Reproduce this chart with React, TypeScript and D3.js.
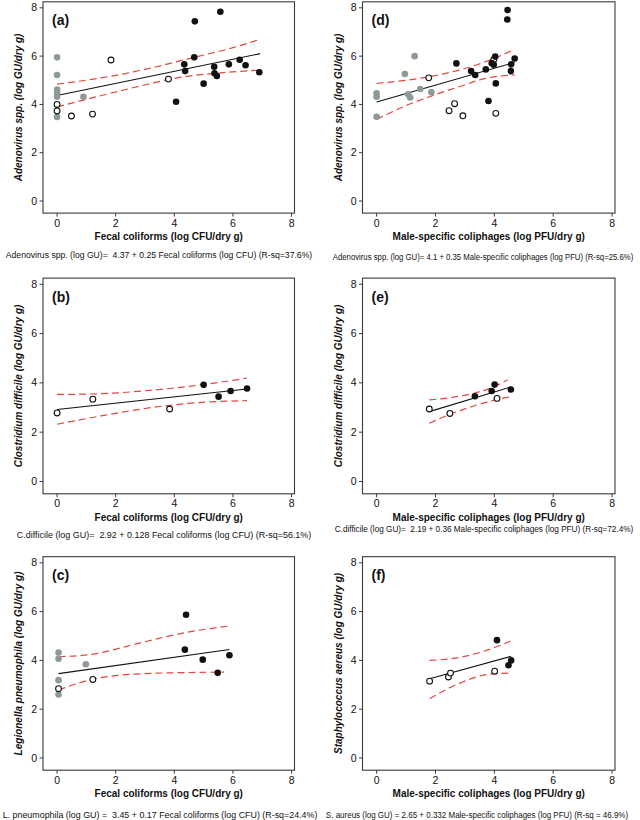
import React, { useLayoutEffect, useRef, useState } from "react";
import * as d3 from "d3";

type P = [number, number];

// ---------- data ----------
const aGray: P[] = [[0, 5.95], [0, 5.22], [0, 4.62], [0, 4.47], [0, 4.32], [0, 3.48], [0.9, 4.32]];
const aOpen: P[] = [[0, 4.0], [0, 3.73], [0.49, 3.52], [1.21, 3.6], [1.84, 5.84], [3.8, 5.05]];
const aBlack: P[] = [[4.7, 7.44], [5.57, 7.84], [4.34, 5.66], [4.68, 5.95], [4.37, 5.38], [5.36, 5.56], [5.37, 5.29], [5.45, 5.18], [5.86, 5.66], [6.23, 5.85], [6.43, 5.62], [6.9, 5.33], [5.0, 4.86], [4.06, 4.11]];
const aUpper: P[] = [[0, 4.84], [1.5, 5.1], [3, 5.45], [4.5, 5.9], [6, 6.35], [6.93, 6.7]];
const aLower: P[] = [[0, 3.9], [0.9, 4.18], [2.83, 4.76], [4, 5.08], [5.6, 5.31], [6.93, 5.42]];

const dGray: P[] = [[0, 4.46], [0, 4.32], [0, 3.49], [0.96, 5.26], [1.29, 6.0], [1.07, 4.42], [1.14, 4.29], [1.48, 4.64], [1.86, 4.5]];
const dOpen: P[] = [[1.77, 5.1], [2.65, 4.03], [2.46, 3.74], [2.93, 3.53], [4.05, 3.63], [3.98, 5.85]];
const dBlack: P[] = [[2.71, 5.7], [3.21, 5.38], [3.35, 5.22], [3.71, 5.45], [3.91, 5.71], [3.98, 5.64], [4.03, 5.98], [4.05, 4.87], [3.8, 4.14], [4.45, 7.91], [4.44, 7.52], [4.56, 5.38], [4.57, 5.66], [4.69, 5.9]];
const dUpper: P[] = [[0, 4.87], [1.79, 5.15], [2.8, 5.42], [3.7, 5.77], [4.69, 6.28]];
const dLower: P[] = [[0, 3.38], [0.9, 3.9], [1.8, 4.32], [2.8, 4.73], [3.7, 5.08], [4.69, 5.22]];

const bGray: P[] = [];
const bOpen: P[] = [[0, 2.78], [1.22, 3.34], [3.84, 2.94]];
const bBlack: P[] = [[5.0, 3.92], [5.51, 3.44], [5.92, 3.67], [6.48, 3.77]];
const bUpper: P[] = [[0, 3.53], [1.5, 3.56], [3, 3.68], [4.5, 3.86], [6.48, 4.19]];
const bLower: P[] = [[0, 2.32], [1.5, 2.66], [3, 2.96], [4.5, 3.17], [6.48, 3.28]];

const eGray: P[] = [];
const eOpen: P[] = [[1.79, 2.94], [2.49, 2.76], [4.09, 3.37]];
const eBlack: P[] = [[3.34, 3.46], [3.91, 3.67], [4.01, 3.93], [4.56, 3.73]];
const eUpper: P[] = [[1.79, 3.31], [2.5, 3.4], [3.3, 3.58], [3.9, 3.8], [4.45, 4.12]];
const eLower: P[] = [[1.79, 2.36], [2.5, 2.73], [3.3, 3.06], [3.9, 3.27], [4.56, 3.44]];

const cGray: P[] = [[0.05, 4.32], [0.05, 4.07], [0.05, 3.19], [0.05, 2.6], [0.98, 3.84]];
const cOpen: P[] = [[0.05, 2.84], [1.22, 3.22]];
const cBlack: P[] = [[4.4, 5.87], [4.36, 4.44], [4.97, 4.03], [5.48, 3.49], [5.88, 4.21]];
const cUpper: P[] = [[0.05, 4.15], [1.12, 4.24], [2.84, 4.72], [4.33, 5.13], [5.88, 5.41]];
const cLower: P[] = [[0.05, 2.79], [1.22, 3.23], [2.84, 3.45], [4.33, 3.5], [5.7, 3.52]];

const fGray: P[] = [];
const fOpen: P[] = [[1.8, 3.15], [2.44, 3.32], [2.51, 3.48], [4.01, 3.56]];
const fBlack: P[] = [[4.09, 4.83], [4.48, 3.8], [4.57, 4.0]];
const fUpper: P[] = [[1.8, 4.0], [2.91, 4.14], [3.8, 4.44], [4.57, 4.8]];
const fLower: P[] = [[1.8, 2.43], [2.91, 3.11], [3.8, 3.43], [4.57, 3.48]];

// regression fits (intercept, slope) and x-extent of the fitted line
const intercepts = [4.37, 2.92, 3.45, 4.1, 2.19, 2.65];
const slopes = [0.25, 0.128, 0.17, 0.35, 0.36, 0.332];
const fitStart = [0, 0, 0.05, 0, 1.79, 1.8];
const fitEnd = [6.93, 6.48, 5.88, 4.69, 4.56, 4.57];

const tickValues = [0, 2, 4, 6, 8];
const panelLabels = ["(a)", "(b)", "(c)", "(d)", "(e)", "(f)"];
const yTitles = [
  "Adenovirus spp. (log GU/dry g)",
  "Clostridium difficile (log GU/dry g)",
  "Legionella pneumophila (log GU/dry g)",
  "Adenovirus spp. (log GU/dry g)",
  "Clostridium difficile (log GU/dry g)",
  "Staphylococcus aereus (log GU/dry g)",
];
const xTitles = [
  "Fecal coliforms (log CFU/dry g)",
  "Fecal coliforms (log CFU/dry g)",
  "Fecal coliforms (log CFU/dry g)",
  "Male-specific coliphages (log PFU/dry g)",
  "Male-specific coliphages (log PFU/dry g)",
  "Male-specific coliphages (log PFU/dry g)",
];
const equations = [
  "Adenovirus spp. (log GU)=  4.37 + 0.25 Fecal coliforms (log CFU) (R-sq=37.6%)",
  "C.difficile (log GU)=  2.92 + 0.128 Fecal coliforms (log CFU) (R-sq=56.1%)",
  "L. pneumophila (log GU) =  3.45 + 0.17 Fecal coliforms (log CFU) (R-sq=24.4%)",
  "Adenovirus spp. (log GU)= 4.1 + 0.35 Male-specific coliphages (log PFU) (R-sq=25.6%)",
  "C.difficile (log GU)=  2.19 + 0.36 Male-specific coliphages (log PFU) (R-sq=72.4%)",
  "S. aureus (log GU) = 2.65 + 0.332 Male-specific coliphages (log PFU) (R-sq = 46.9%)",
];

const grays = [aGray, bGray, cGray, dGray, eGray, fGray];
const opens = [aOpen, bOpen, cOpen, dOpen, eOpen, fOpen];
const blacks = [aBlack, bBlack, cBlack, dBlack, eBlack, fBlack];
const uppers = [aUpper, bUpper, cUpper, dUpper, eUpper, fUpper];
const lowers = [aLower, bLower, cLower, dLower, eLower, fLower];

// ---------- layout ----------
const colX: [number, number][] = [[43, 294.5], [362.5, 615]];
const rowY: [number, number][] = [[213.1, 1.8], [493.8, 278.1], [770.2, 556.7]];
const eqPos: { cx: number; y: number; w: number }[] = [
  { cx: 159, y: 258, w: 306 },
  { cx: 164, y: 538, w: 294 },
  { cx: 160, y: 818, w: 314 },
  { cx: 483, y: 260, w: 300 },
  { cx: 484, y: 531.5, w: 298 },
  { cx: 477, y: 818, w: 302 },
];

const FONT = "'Liberation Sans', Arial, Helvetica, sans-serif";
const RED = "#e2473f";
const GRAY = "#8d9a99";
const FRAME = "#3a3a3a";

function EqText({ text, cx, y, w }: { text: string; cx: number; y: number; w: number }) {
  const ref = useRef<SVGTextElement>(null);
  const [s, setS] = useState(0.8);
  useLayoutEffect(() => {
    if (ref.current) {
      const n = ref.current.getComputedTextLength();
      if (n > 0) setS(w / n);
    }
  }, [text, w]);
  return (
    <text
      ref={ref}
      transform={`translate(${cx},${y}) scale(${s},1)`}
      x={0}
      y={0}
      textAnchor="middle"
      fontSize={9}
      fontFamily={FONT}
      fill="#111"
      style={{ whiteSpace: "pre" }}
    >
      {text}
    </text>
  );
}

function Panel({ i }: { i: number }) {
  const col = Math.floor(i / 3);
  const row = i % 3;
  const x = d3.scaleLinear().domain([-0.48, 8.1]).range(colX[col]);
  const y = d3.scaleLinear().domain([-0.5, 8.25]).range(rowY[row]);
  const [L, R] = colX[col];
  const [B, T] = rowY[row];
  const band = d3
    .line<P>()
    .x((d) => x(d[0]))
    .y((d) => y(d[1]))
    .curve(d3.curveMonotoneX);
  const fitPts: P[] = [
    [fitStart[i], intercepts[i] + slopes[i] * fitStart[i]],
    [fitEnd[i], intercepts[i] + slopes[i] * fitEnd[i]],
  ];
  const straight = d3
    .line<P>()
    .x((d) => x(d[0]))
    .y((d) => y(d[1]));
  const r = 3.3;
  const eq = eqPos[i];
  return (
    <g>
      <rect x={L} y={T} width={R - L} height={B - T} fill="white" stroke={FRAME} strokeWidth={1.1} />
      {tickValues.map((t) => (
        <g key={"y" + t}>
          <line x1={L - 3.5} x2={L} y1={y(t)} y2={y(t)} stroke={FRAME} strokeWidth={1} />
          <text x={L - 6} y={y(t) + 3.6} textAnchor="end" fontSize={10.5} fontFamily={FONT} fill="#111">
            {t}
          </text>
        </g>
      ))}
      {tickValues.map((t) => (
        <g key={"x" + t}>
          <line x1={x(t)} x2={x(t)} y1={B} y2={B + 3.5} stroke={FRAME} strokeWidth={1} />
          <text x={x(t)} y={B + 13.5} textAnchor="middle" fontSize={10.5} fontFamily={FONT} fill="#111">
            {t}
          </text>
        </g>
      ))}
      <text x={L + 9} y={T + 23.5} fontSize={14} fontWeight="bold" fontFamily={FONT} fill="#111">
        {panelLabels[i]}
      </text>
      <path d={band(uppers[i]) || ""} fill="none" stroke={RED} strokeWidth={1.2} strokeDasharray="7,4" />
      <path d={band(lowers[i]) || ""} fill="none" stroke={RED} strokeWidth={1.2} strokeDasharray="7,4" />
      <path d={straight(fitPts) || ""} fill="none" stroke="#111" strokeWidth={1.1} />
      {grays[i].map((d, k) => (
        <circle key={"g" + k} cx={x(d[0])} cy={y(d[1])} r={r} fill={GRAY} />
      ))}
      {opens[i].map((d, k) => (
        <circle key={"o" + k} cx={x(d[0])} cy={y(d[1])} r={r - 0.4} fill="white" stroke="#111" strokeWidth={1.1} />
      ))}
      {blacks[i].map((d, k) => (
        <circle key={"b" + k} cx={x(d[0])} cy={y(d[1])} r={r} fill="#111" />
      ))}
      <text
        transform={`translate(${L - 21},${(T + B) / 2}) rotate(-90)`}
        textAnchor="middle"
        fontSize={10}
        fontWeight="bold"
        fontStyle="italic"
        fontFamily={FONT}
        fill="#111"
      >
        {yTitles[i]}
      </text>
      <text x={(L + R) / 2} y={B + 27} textAnchor="middle" fontSize={10} fontWeight="bold" fontFamily={FONT} fill="#111">
        {xTitles[i]}
      </text>
      <EqText text={equations[i]} cx={eq.cx} y={eq.y} w={eq.w} />
    </g>
  );
}

export default function App() {
  return (
    <svg
      width={640}
      height={820}
      style={{ position: "absolute", left: 0, top: 0, background: "white" }}
    >
      <rect width={640} height={820} fill="white" />
      {[0, 1, 2, 3, 4, 5].map((i) => (
        <Panel key={i} i={i} />
      ))}
    </svg>
  );
}
